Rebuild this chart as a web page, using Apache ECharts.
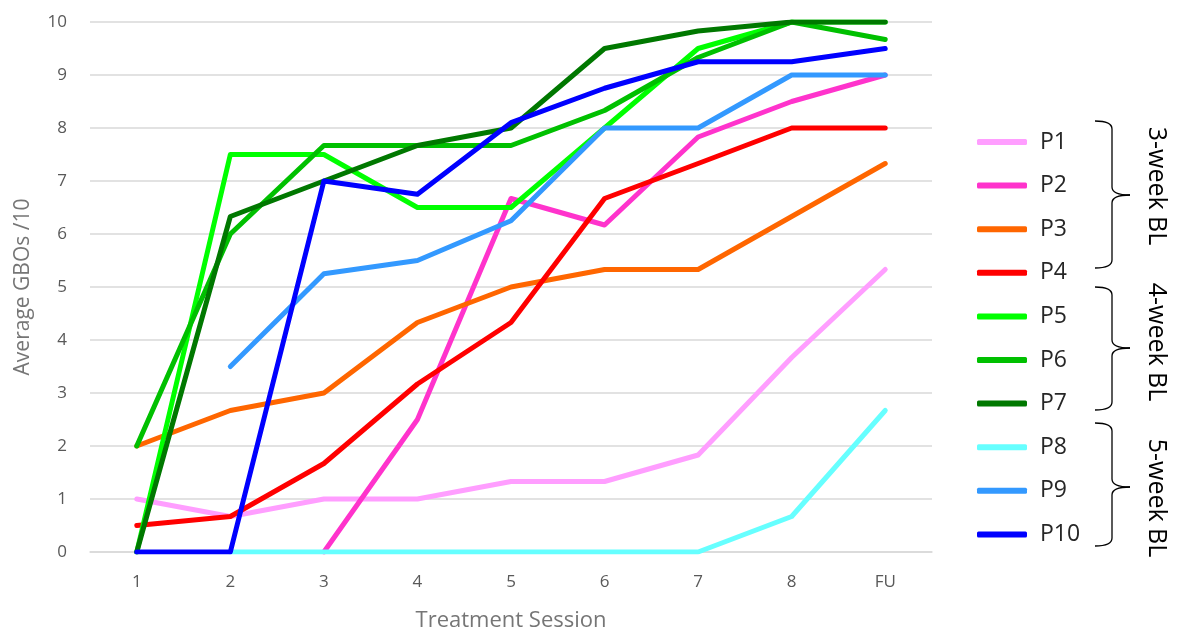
<!DOCTYPE html>
<html>
<head>
<meta charset="utf-8">
<script src="https://cdn.jsdelivr.net/npm/echarts@6/dist/echarts.min.js"></script>
<style>
html,body{margin:0;padding:0;background:#fff;}
#chart{width:1177px;height:637px;}
</style>
</head>
<body>
<div id="chart"></div>
<script>
const categories = ['1','2','3','4','5','6','7','8','FU'];
const seriesNames = ['P1','P2','P3','P4','P5','P6','P7','P8','P9','P10'];
const P1  = [1.0, 0.67, 1.0, 1.0, 1.33, 1.33, 1.83, 3.67, 5.33];
const P2  = [null, null, 0, 2.5, 6.67, 6.17, 7.83, 8.5, 9.0];
const P3  = [2.0, 2.67, 3.0, 4.33, 5.0, 5.33, 5.33, 6.33, 7.33];
const P4  = [0.5, 0.67, 1.67, 3.17, 4.33, 6.67, 7.33, 8.0, 8.0];
const P5  = [0, 7.5, 7.5, 6.5, 6.5, 8.0, 9.5, 10, 10];
const P6  = [2.0, 6.0, 7.67, 7.67, 7.67, 8.33, 9.33, 10, 9.67];
const P7  = [0, 6.33, 7.0, 7.67, 8.0, 9.5, 9.83, 10, 10];
const P8  = [null, 0, 0, 0, 0, 0, 0, 0.67, 2.67];
const P9  = [null, 3.5, 5.25, 5.5, 6.25, 8.0, 8.0, 9.0, 9.0];
const P10 = [0, 0, 7.0, 6.75, 8.1, 8.75, 9.25, 9.25, 9.5];
const yTicks = [0,1,2,3,4,5,6,7,8,9,10];
const groupLabels = ['3-week BL','4-week BL','5-week BL'];

const allData = [P1,P2,P3,P4,P5,P6,P7,P8,P9,P10];
const colors = ['#FF9EFF','#FF33CC','#FF6600','#FF0000','#00FF00','#00C000','#007800','#66FFFF','#3399FF','#0000FF'];

const chart = echarts.init(document.getElementById('chart'));

const braceStyle = { fill: 'none', stroke: '#000', lineWidth: 1.3 };
function braceParts(x0, x1, xt, top, mid, bottom, r) {
  return [
    { type: 'bezierCurve', shape: { x1: x0, y1: top, cpx1: x1, cpy1: top, x2: x1, y2: top + r }, style: braceStyle },
    { type: 'line', shape: { x1: x1, y1: top + r, x2: x1, y2: mid - r }, style: braceStyle },
    { type: 'bezierCurve', shape: { x1: x1, y1: mid - r, cpx1: x1, cpy1: mid, x2: xt, y2: mid }, style: braceStyle },
    { type: 'bezierCurve', shape: { x1: xt, y1: mid, cpx1: x1, cpy1: mid, x2: x1, y2: mid + r }, style: braceStyle },
    { type: 'line', shape: { x1: x1, y1: mid + r, x2: x1, y2: bottom - r }, style: braceStyle },
    { type: 'bezierCurve', shape: { x1: x1, y1: bottom - r, cpx1: x1, cpy1: bottom, x2: x0, y2: bottom }, style: braceStyle }
  ];
}

const braces = [[121,195,268],[287,348,410],[423,487,546]];
const groupCenters = [186, 342, 498];
let graphics = [];
braces.forEach(function(b){
  graphics = graphics.concat(braceParts(1095, 1112, 1130, b[0], b[1], b[2], 8));
});
groupLabels.forEach(function(t, i){
  graphics.push({
    type: 'text',
    x: 1156, y: groupCenters[i],
    rotation: -Math.PI/2,
    style: {
      text: t, fill: '#000', font: '25px "Open Sans"',
      align: 'center', verticalAlign: 'middle'
    }
  });
});

chart.setOption({
  animation: false,
  textStyle: { fontFamily: '"Open Sans", "Noto Sans", sans-serif' },
  grid: { left: 90, right: 245, top: 22, bottom: 79, containLabel: false },
  legend: {
    orient: 'vertical',
    left: 972, top: 125,
    itemWidth: 50, itemHeight: 6,
    itemGap: 19.6,
    icon: 'roundRect',
    textStyle: { fontSize: 23, color: '#262626', lineHeight: 24, padding: [0,0,0,8] },
    data: seriesNames
  },
  xAxis: {
    type: 'category',
    data: categories,
    boundaryGap: true,
    name: 'Treatment Session',
    nameLocation: 'middle',
    nameGap: 58,
    nameTextStyle: { fontSize: 22, color: '#767676' },
    axisLine: { show: true, lineStyle: { color: '#d9d9d9', width: 1.5 } },
    axisTick: { show: false },
    axisLabel: { fontSize: 17, color: '#595959', margin: 22 },
    splitLine: { show: false }
  },
  yAxis: {
    type: 'value',
    min: 0, max: 10, interval: 1,
    name: 'Average GBOs /10',
    nameLocation: 'middle',
    nameGap: 56,
    nameTextStyle: { fontSize: 21, color: '#767676' },
    axisLine: { show: false },
    axisTick: { show: false },
    axisLabel: { fontSize: 17, color: '#595959', margin: 23,
      formatter: function(v){ return yTicks.indexOf(v) >= 0 ? String(v) : ''; } },
    splitLine: { show: true, lineStyle: { color: '#d9d9d9', width: 1.5 } }
  },
  series: seriesNames.map(function(name, i){
    return {
      name: name,
      type: 'line',
      data: allData[i],
      showSymbol: false,
      symbol: 'none',
      connectNulls: false,
      color: colors[i],
      lineStyle: { width: 5, color: colors[i], cap: 'round', join: 'round' },
      emphasis: { disabled: true }
    };
  }),
  graphic: graphics
});
</script>
</body>
</html>
